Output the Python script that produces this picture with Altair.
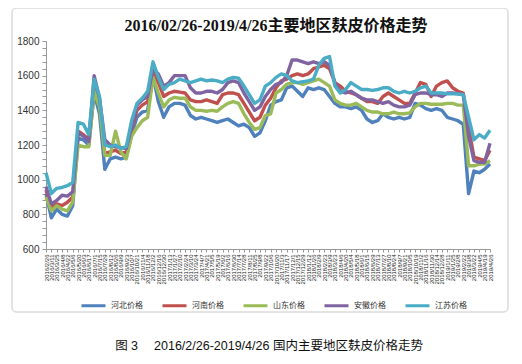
import altair as alt
import pandas as pd

# categories: biweekly sample dates from 2016/2/26 to 2019/4/26
start = pd.Timestamp("2016-02-26")
date_objs = [start + pd.Timedelta(days=14 * i) for i in range(83)] + [pd.Timestamp("2019-04-26")]
dates = [f"{d.year}/{d.month}/{d.day}" for d in date_objs]

series_names = ["河北价格", "河南价格", "山东价格", "安徽价格", "江苏价格"]
colors = ["#4F81BD", "#C0504D", "#9BBB59", "#8064A2", "#4BACC6"]

hebei = [920, 780, 830, 800, 790, 850, 1240, 1230, 1200, 1500, 1380, 1060, 1120, 1130, 1120, 1130,
         1260, 1360, 1390, 1400, 1600, 1450, 1360, 1420, 1440, 1440, 1430, 1370, 1350, 1360, 1350,
         1340, 1330, 1340, 1350, 1330, 1310, 1320, 1300, 1250, 1270, 1340, 1430, 1450, 1460, 1530,
         1540, 1510, 1480, 1530, 1520, 1530, 1520, 1480, 1440, 1420, 1420, 1410, 1420, 1400, 1350,
         1330, 1340, 1380, 1360, 1350, 1360, 1350, 1360, 1440, 1430, 1410, 1400, 1410, 1400, 1360,
         1350, 1340, 1320, 920, 1050, 1040, 1060, 1090]
henan = [940, 840, 860, 850, 870, 900, 1280, 1260, 1230, 1530, 1450, 1150, 1160, 1170, 1150, 1160,
         1290, 1400, 1430, 1450, 1620, 1560, 1480, 1500, 1510, 1505, 1500, 1460, 1450, 1450, 1460,
         1450, 1440, 1490, 1500, 1500, 1490, 1440, 1390, 1340, 1360, 1430, 1470, 1530, 1570, 1580,
         1600, 1610, 1600, 1610, 1640, 1650, 1660, 1640, 1560, 1540, 1510, 1500, 1490, 1470, 1450,
         1450, 1440, 1480, 1500, 1480, 1460, 1440, 1440, 1500, 1560, 1550, 1480, 1540, 1560, 1570,
         1530, 1510, 1500, 1300, 1130, 1120, 1110, 1170]
shandong = [900, 820, 850, 830, 820, 870, 1200, 1190, 1190, 1510, 1420, 1140, 1140, 1280, 1160, 1120,
            1250, 1300, 1340, 1360, 1590, 1500, 1420, 1460, 1475, 1470, 1470, 1420, 1400, 1400, 1395,
            1400, 1395, 1420, 1440, 1450, 1440, 1380, 1330, 1290, 1300, 1370, 1380, 1500, 1520, 1550,
            1560, 1560, 1550, 1560, 1570, 1580, 1560, 1540, 1460, 1440, 1430, 1430, 1440, 1420, 1400,
            1390, 1390, 1380, 1380, 1390, 1380, 1380, 1385, 1420, 1440, 1440, 1435, 1435, 1435, 1440,
            1440, 1430, 1430, 1080, 1080, 1090, 1090, 1110]
anhui = [960, 860, 880, 910, 905, 930, 1270, 1250, 1220, 1600, 1470, 1230, 1200, 1190, 1185, 1180,
         1300, 1430, 1460, 1480, 1640, 1610, 1540, 1560, 1600, 1600, 1600, 1530, 1500, 1500, 1510,
         1510, 1500, 1520, 1560, 1570, 1560, 1500, 1450, 1400, 1420, 1480, 1520, 1550, 1560, 1600,
         1690, 1690, 1680, 1670, 1680, 1670, 1680, 1660, 1560, 1510, 1500, 1510, 1490, 1470, 1460,
         1460, 1450, 1440, 1450, 1430, 1420, 1420, 1430, 1490, 1500, 1500, 1490, 1490, 1480, 1500,
         1500, 1495, 1490, 1250, 1110, 1100, 1100, 1210]
jiangsu = [1040, 920, 950, 955, 965, 985, 1330, 1320, 1260, 1580, 1480, 1200, 1190, 1200, 1180, 1190,
           1340, 1440, 1470, 1510, 1680, 1590, 1520, 1550, 1560, 1580, 1570, 1560, 1570, 1580, 1570,
           1575, 1570, 1560, 1580, 1590, 1585, 1540, 1490, 1440, 1460, 1540, 1560, 1590, 1610, 1600,
           1570, 1560, 1565, 1570, 1580, 1660, 1700, 1710, 1540, 1500, 1520, 1560, 1540, 1520, 1520,
           1515, 1520, 1530, 1530, 1510, 1500, 1510, 1500, 1510, 1530, 1540, 1500, 1500, 1500, 1495,
           1495, 1495, 1490, 1360, 1230, 1260, 1240, 1285]

all_series = [hebei, henan, shandong, anhui, jiangsu]
rows = []
for name, vals in zip(series_names, all_series):
    for d, v in zip(dates, vals):
        rows.append({"date": d, "series": name, "value": v})
df = pd.DataFrame(rows)

lines = alt.Chart(df).mark_line(strokeWidth=3.4, strokeJoin="round").encode(
    x=alt.X("date:O", sort=dates, scale=alt.Scale(type="point", padding=0),
            axis=alt.Axis(title=None, labelAngle=-90, labelFontSize=6, labelOverlap=False,
                          labelFont="Liberation Sans", labelColor="#222", tickSize=3,
                          tickColor="#999", domainColor="#999", labelPadding=2)),
    y=alt.Y("value:Q", scale=alt.Scale(domain=[600, 1800], nice=False, zero=False),
            axis=alt.Axis(title=None, values=list(range(600, 1801, 40)), format="d",
                          labelExpr="datum.value % 200 == 0 ? datum.label : ''",
                          grid=False, tickSize=4, tickColor="#999", domainColor="#999",
                          labelFont="Liberation Sans", labelFontSize=10, labelColor="#333",
                          labelPadding=3)),
    color=alt.Color("series:N", sort=series_names,
                    scale=alt.Scale(domain=series_names, range=colors),
                    legend=alt.Legend(title=None, orient="none", direction="horizontal",
                                      legendX=34, legendY=251, symbolType="stroke",
                                      symbolSize=576, symbolStrokeWidth=3,
                                      labelFont="Noto Sans CJK SC", labelFontSize=8,
                                      labelColor="#333", labelOffset=4, columnPadding=13)),
)

one = pd.DataFrame({"a": [0]})

frame = alt.Chart(one).mark_rect(
    fill="transparent", stroke="#c8c8c8", strokeWidth=1, strokeOpacity=1, cornerRadius=4
).encode(x=alt.value(-34), x2=alt.value(462), y=alt.value(-33), y2=alt.value(271))

title = alt.Chart(one).mark_text(
    text="2016/02/26-2019/4/26主要地区麸皮价格走势",
    font="Liberation Serif, Noto Sans CJK SC", fontSize=16, fontWeight="bold",
    color="#111", align="center", baseline="middle"
).encode(x=alt.value(230), y=alt.value(-15))

caption = alt.Chart(one).mark_text(
    text="图\u00a03\u3000\u00a02016/2/26-2019/4/26 国内主要地区麸皮价格走势",
    font="Liberation Sans, Noto Sans CJK SC", fontSize=12.5, color="#111", align="center",
    baseline="middle"
).encode(x=alt.value(223), y=alt.value(305))

chart = alt.layer(frame, lines, title, caption).properties(
    width=444, height=208,
    autosize=alt.AutoSizeParams(type="none"),
    padding={"left": 38, "top": 33, "right": 22, "bottom": 107},
).configure_view(stroke=None)

chart.save("out.html", embed_options={"renderer": "svg", "actions": False})
